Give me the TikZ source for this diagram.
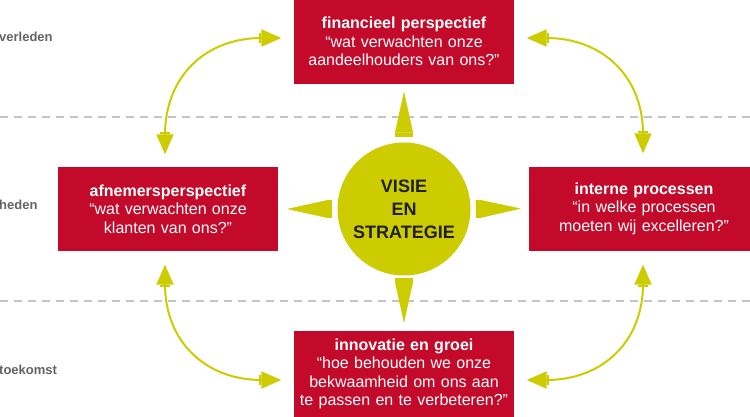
\documentclass[tikz,border=0pt]{standalone}
\usepackage{fontspec}
\setmainfont{Liberation Sans}
\usetikzlibrary{arrows.meta}
\definecolor{boxred}{RGB}{196,10,42}
\definecolor{yel}{RGB}{204,204,0}
\definecolor{labgrey}{RGB}{100,100,100}
\definecolor{dashgrey}{RGB}{196,196,196}
\tikzset{
  persp/.style={fill=boxred, draw=none, text=white, minimum width=220pt, minimum height=84pt,
    inner sep=0pt, text width=216pt, align=center, font=\fontsize{16}{18.5}\selectfont},
  timelab/.style={anchor=west, inner sep=0pt, text=labgrey, font=\fontsize{13}{15}\selectfont\bfseries},
  dashline/.style={draw=dashgrey, line width=1.6pt, dash pattern=on 8pt off 6pt},
  spike/.style={draw=yel, line width=0.5pt,
    -{Bar[width=18pt,line width=4pt] Triangle[length=41pt,width=18pt,sep=3pt]}},
  curvarrow/.style={draw=yel, line width=2pt,
    {Triangle[length=20pt,width=17pt,sep=1.5pt] Bar[width=10pt,line width=2.5pt]}-{Bar[width=10pt,line width=2.5pt] Triangle[length=20pt,width=17pt,sep=1.5pt]}},
}
\begin{document}
\begin{tikzpicture}[x=1pt,y=1pt]
\useasboundingbox (0,0) rectangle (750,-416);
\fill[white] (0,0) rectangle (750,-416);
% time bands
\draw[dashline] (0,-117) -- (750,-117);
\draw[dashline] (0,-301) -- (750,-301);
\node[timelab] (verleden) at (-1,-37) {verleden};
\node[timelab] (heden) at (-1,-205) {heden};
\node[timelab] (toekomst) at (-1,-370) {toekomst};
% boxes
\node[persp] (fin) at (404,-41.5) {\textbf{financieel perspectief}\\“wat verwachten onze\\aandeelhouders van ons?"};
\node[persp] (afn) at (168,-209) {\textbf{afnemersperspectief}\\“wat verwachten onze\\klanten van ons?"};
\node[persp, minimum width=230pt, text width=226pt] (int) at (644,-208.5) {\textbf{interne processen}\\“in welke processen\\moeten wij excelleren?"};
\node[persp, minimum height=86pt] (inn) at (404,-374) {\textbf{innovatie en groei}\\“hoe behouden we onze\\bekwaamheid om ons aan\\te passen en te verbeteren?"};
% centre
\node[circle, fill=yel, minimum size=133pt, inner sep=0pt, align=center,
  text=black!88, font=\fontsize{18}{23}\selectfont\bfseries] (vis) at (404,-209) {VISIE\\EN\\STRATEGIE};
% spikes
\draw[spike, shorten <=6pt, shorten >=5pt] (vis.north) -- (fin.south);
\draw[spike, shorten <=5pt, shorten >=6pt] (vis.west) -- (afn.east);
\draw[spike, shorten <=5pt, shorten >=5pt] (vis.east) -- (int.west);
\draw[spike, shorten <=4pt, shorten >=5pt] (vis.south) -- (inn.north);
% curved arrows
\coordinate (tl-a) at ([xshift=-3pt,yshift=11pt]afn.north);
\coordinate (tl-b) at ([xshift=-11pt,yshift=3.5pt]fin.west);
\coordinate (tr-a) at ([xshift=11pt,yshift=3.5pt]fin.east);
\coordinate (tr-b) at ([xshift=-1pt,yshift=11.5pt]int.north);
\coordinate (bl-a) at ([xshift=-3pt,yshift=-12pt]afn.south);
\coordinate (bl-b) at ([xshift=-11pt,yshift=-6pt]inn.west);
\coordinate (br-a) at ([xshift=-1pt,yshift=-12.5pt]int.south);
\coordinate (br-b) at ([xshift=11pt,yshift=-6pt]inn.east);
\draw[curvarrow] (tl-a) to[out=90,in=180,looseness=1.2] (tl-b);
\draw[curvarrow] (tr-a) to[out=0,in=90,looseness=1.2] (tr-b);
\draw[curvarrow] (bl-a) to[out=-90,in=180,looseness=1.2] (bl-b);
\draw[curvarrow] (br-a) to[out=-90,in=0,looseness=1.2] (br-b);
\end{tikzpicture}
\end{document}
